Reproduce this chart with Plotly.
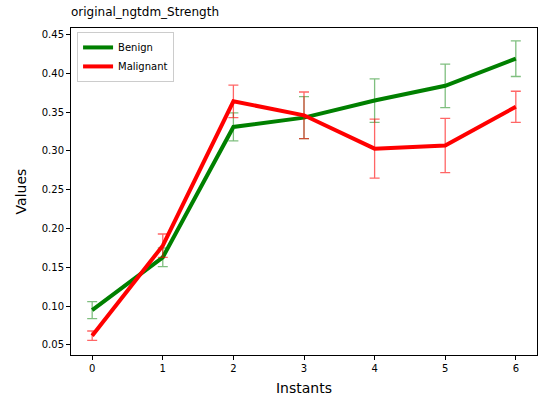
import plotly.graph_objects as go

instants = [0, 1, 2, 3, 4, 5, 6]
benign_mean = [0.095, 0.163, 0.331, 0.343, 0.365, 0.384, 0.419]
benign_err = [0.011, 0.012, 0.018, 0.027, 0.028, 0.028, 0.023]
malignant_mean = [0.062, 0.178, 0.364, 0.346, 0.303, 0.307, 0.357]
malignant_err = [0.006, 0.015, 0.021, 0.030, 0.038, 0.035, 0.020]
y_ticks = [0.05, 0.10, 0.15, 0.20, 0.25, 0.30, 0.35, 0.40, 0.45]

fig = go.Figure()
fig.add_trace(go.Scatter(
    x=instants, y=benign_mean, mode="lines", name="Benign",
    line=dict(color="green", width=4),
    error_y=dict(type="data", array=benign_err, visible=True,
                 color="rgba(0,128,0,0.5)", thickness=1.3, width=5),
))
fig.add_trace(go.Scatter(
    x=instants, y=malignant_mean, mode="lines", name="Malignant",
    line=dict(color="red", width=4),
    error_y=dict(type="data", array=malignant_err, visible=True,
                 color="rgba(255,0,0,0.6)", thickness=1.3, width=5),
))

axis_common = dict(showline=True, linecolor="black", linewidth=1, mirror=True,
                   ticks="outside", ticklen=4, tickcolor="black", showgrid=False,
                   zeroline=False, tickfont=dict(family="DejaVu Sans", size=10, color="black"))

fig.update_layout(
    width=544, height=401,
    margin=dict(l=71, r=7, t=28, b=46),
    paper_bgcolor="white", plot_bgcolor="white",
    font=dict(family="DejaVu Sans", color="black"),
    title=dict(text="original_ngtdm_Strength", x=71/544, xanchor="left",
               y=1-12/401, yanchor="middle", font=dict(size=12, color="black")),
    xaxis=dict(range=[-0.3, 6.3], tickvals=instants,
               title=dict(text="Instants", font=dict(size=14), standoff=10), **axis_common),
    yaxis=dict(range=[0.0371, 0.4585], tickvals=y_ticks, tickformat=".2f",
               title=dict(text="Values", font=dict(size=14), standoff=11), **axis_common),
    legend=dict(x=0.013, y=0.988, xanchor="left", yanchor="top",
                bgcolor="white", bordercolor="#cccccc", borderwidth=1,
                font=dict(size=10), tracegroupgap=0),
    showlegend=True,
)

fig.write_html("out.html")
